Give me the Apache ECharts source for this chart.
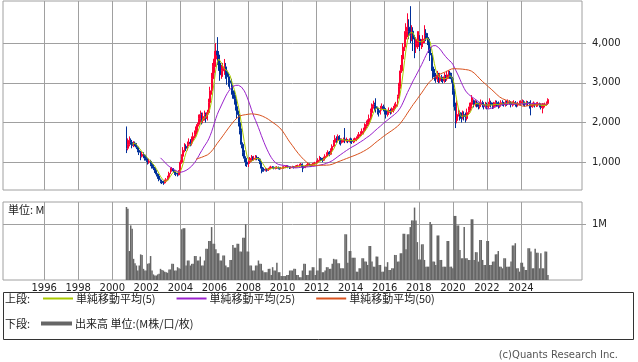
<!DOCTYPE html>
<html><head><meta charset="utf-8">
<script src="https://cdn.jsdelivr.net/npm/echarts@6/dist/echarts.min.js"></script>
<style>html,body{margin:0;padding:0;background:#fff}#c{width:638px;height:362px}</style>
</head><body><div id="c"></div>
<script>
// axis span (monthly categories) and data start
const axisStart = [1993, 8];
const axisEnd = [2027, 8];
const dataStart = '2000-11';
const yearTicks = ['1996','1998','2000','2002','2004','2006','2008','2010','2012','2014','2016','2018','2020','2022','2024'];
const priceTicks = [1000, 2000, 3000, 4000];
const volumeTicks = [1];

// monthly OHLC, Nov 2000 .. Aug 2025
const opens = [
1880,1350,
1450,1550,1500,1420,1480,1450,1380,1300,1250,1150,1200,1180,
1100,1050,1000,1020,950,900,850,780,700,650,560,520,
500,480,520,560,620,720,800,840,780,720,700,680,
750,1000,1150,1300,1400,1350,1450,1500,1480,1550,1650,1700,
1800,1950,2100,2200,2050,2150,2200,2100,2250,2500,2800,3100,
3400,3600,3800,3700,3500,3200,3300,3350,3400,3300,3150,3050,
3000,2800,2700,2600,2400,2200,2000,1800,1450,1250,1100,1000,
950,1000,1050,1100,1080,1100,1120,1100,1080,1000,850,820,
800,820,800,830,860,880,870,850,860,870,850,840,
850,860,870,880,900,880,860,870,880,870,890,900,
910,930,950,880,870,900,920,950,930,920,950,960,
980,1000,1050,1100,1080,1050,1100,1150,1200,1250,1200,1300,
1400,1500,1600,1550,1650,1550,1500,1550,1580,1540,1550,1530,
1560,1550,1520,1540,1560,1600,1650,1700,1720,1780,1800,1900,
1950,2000,2100,2250,2400,2450,2400,2350,2300,2250,2350,2400,
2350,2300,2200,2250,2300,2280,2300,2350,2400,2450,2650,2900,
3300,3600,3900,4100,4300,4400,4300,4200,4300,4100,3900,4000,
4100,4100,3950,4000,4100,4250,4200,4100,3900,3700,3400,3250,
3150,3100,3200,3050,3150,3100,3050,3150,3100,3200,3250,3200,
3100,2800,2400,2050,2200,2250,2150,2100,2200,2150,2100,2250,
2300,2400,2500,2550,2450,2500,2450,2400,2450,2500,2450,2400,
2450,2400,2450,2500,2450,2400,2450,2500,2480,2420,2450,2500,
2480,2450,2500,2480,2520,2500,2450,2480,2500,2460,2440,2470,
2490,2500,2520,2480,2460,2500,2480,2420,2400,2450,2470,2440,
2450,2460,2440,2380,2420,2430,2450,2480
];
const closes = [
1350,1450,
1550,1500,1420,1480,1450,1380,1300,1250,1150,1200,1180,1100,
1050,1000,1020,950,900,850,780,700,650,560,520,500,
480,520,560,620,720,800,840,780,720,700,680,750,
1000,1150,1300,1400,1350,1450,1500,1480,1550,1650,1700,1800,
1950,2100,2200,2050,2150,2200,2100,2250,2500,2800,3100,3400,
3600,3800,3700,3500,3200,3300,3350,3400,3300,3150,3050,3000,
2800,2700,2600,2400,2200,2000,1800,1450,1250,1100,1000,950,
1000,1050,1100,1080,1100,1120,1100,1080,1000,850,820,800,
820,800,830,860,880,870,850,860,870,850,840,850,
860,870,880,900,880,860,870,880,870,890,900,910,
930,950,880,870,900,920,950,930,920,950,960,980,
1000,1050,1100,1080,1050,1100,1150,1200,1250,1200,1300,1400,
1500,1600,1550,1650,1550,1500,1550,1580,1540,1550,1530,1560,
1550,1520,1540,1560,1600,1650,1700,1720,1780,1800,1900,1950,
2000,2100,2250,2400,2450,2400,2350,2300,2250,2350,2400,2350,
2300,2200,2250,2300,2280,2300,2350,2400,2450,2650,2900,3300,
3600,3900,4100,4300,4400,4300,4200,4300,4100,3900,4000,4100,
4100,3950,4000,4100,4250,4200,4100,3900,3700,3400,3250,3150,
3100,3200,3050,3150,3100,3050,3150,3100,3200,3250,3200,3100,
2800,2400,2050,2200,2250,2150,2100,2200,2150,2100,2250,2300,
2400,2500,2550,2450,2500,2450,2400,2450,2500,2450,2400,2450,
2400,2450,2500,2450,2400,2450,2500,2480,2420,2450,2500,2480,
2450,2500,2480,2520,2500,2450,2480,2500,2460,2440,2470,2490,
2500,2520,2480,2460,2500,2480,2420,2400,2450,2470,2440,2450,
2460,2440,2380,2420,2430,2450,2480,2580
];
const lows = [
1230,1300,
1400,1440,1350,1380,1400,1330,1250,1180,1050,1120,1100,1040,
1000,940,960,900,840,800,730,640,580,520,470,450,
430,460,500,540,600,700,760,730,680,650,640,670,
730,960,1100,1250,1280,1300,1400,1400,1420,1500,1600,1650,
1750,1900,2000,1950,1980,2050,2000,2050,2200,2450,2700,3000,
3250,3400,3450,3300,3050,3100,3150,3200,3100,2950,2900,2850,
2700,2600,2450,2300,2100,1900,1700,1350,1150,1000,900,880,
880,960,1010,1030,1040,1050,1050,1030,950,720,760,760,
770,760,780,810,840,840,820,820,830,820,810,820,
830,840,850,860,850,830,840,850,840,860,870,880,
890,910,750,840,850,880,900,890,880,900,920,940,
950,980,1020,1030,1000,1030,1080,1130,1170,1150,1180,1280,
1380,1450,1480,1500,1450,1420,1470,1500,1480,1500,1480,1500,
1480,1460,1480,1500,1530,1570,1620,1650,1700,1700,1760,1850,
1900,1950,2050,2200,2350,2300,2250,2200,2150,2200,2300,2280,
2200,2100,2150,2200,2200,2220,2250,2300,2350,2400,2600,2850,
3250,3500,3800,4000,4150,4100,4000,4050,3800,3620,3750,3850,
3900,3800,3850,3900,4000,4050,3950,3750,3550,3300,3100,3050,
3000,3020,2990,3000,3020,2990,3000,3020,3050,3100,3100,3000,
2700,2300,1860,1980,2150,2050,2000,2080,2050,2000,2050,2200,
2250,2350,2450,2380,2400,2380,2330,2350,2400,2380,2330,2350,
2330,2350,2400,2380,2340,2350,2400,2400,2350,2370,2400,2420,
2400,2400,2420,2440,2450,2380,2400,2430,2400,2380,2400,2430,
2430,2450,2420,2400,2420,2420,2350,2180,2370,2400,2380,2390,
2400,2380,2330,2230,2350,2380,2420,2450
];
const highs = [
1900,1600,
1650,1600,1560,1530,1520,1480,1400,1330,1280,1260,1250,1200,
1150,1100,1080,1060,980,950,880,800,720,670,590,560,
530,560,600,660,760,860,880,850,800,750,730,800,
1050,1200,1380,1480,1450,1520,1600,1580,1650,1750,1800,1900,
2000,2200,2300,2250,2250,2300,2250,2320,2600,2900,3250,3500,
3800,4000,4150,3800,3600,3450,3500,3600,3500,3400,3250,3150,
3100,2950,2800,2700,2500,2300,2100,1850,1500,1300,1150,1050,
1100,1130,1180,1150,1160,1180,1170,1130,1100,1020,880,860,
850,840,860,890,910,900,890,890,900,890,870,880,
890,900,910,930,920,900,900,910,900,920,930,940,
960,980,970,900,930,950,980,970,950,980,990,1010,
1040,1100,1160,1130,1110,1140,1200,1250,1300,1280,1350,1450,
1560,1680,1650,1700,1680,1600,1600,1620,1860,1620,1580,1600,
1620,1600,1600,1620,1650,1700,1760,1780,1850,1870,1980,2050,
2080,2200,2350,2480,2550,2500,2610,2400,2350,2420,2480,2450,
2400,2350,2320,2380,2350,2380,2420,2480,2520,2700,3000,3450,
3700,4000,4300,4500,4750,4600,4930,4450,4400,4200,4150,4300,
4300,4200,4100,4200,4450,4350,4250,4150,3950,3750,3450,3350,
3250,3300,3250,3250,3200,3150,3250,3200,3300,3320,3300,3250,
3150,2850,2500,2560,2350,2300,2250,2300,2280,2250,2350,2400,
2500,2690,2620,2580,2560,2550,2500,2520,2580,2550,2500,2520,
2500,2520,2610,2550,2500,2520,2560,2550,2530,2500,2560,2560,
2520,2560,2550,2580,2560,2540,2530,2560,2540,2500,2520,2550,
2560,2580,2560,2520,2550,2540,2520,2560,2500,2530,2500,2510,
2520,2500,2480,2490,2480,2500,2530,2610
];
// monthly volume in millions
const volumes = [
1.31,1.28,
0.52,0.98,0.92,0.38,0.30,0.26,0.17,0.26,0.46,0.45,0.20,0.17,
0.17,0.29,0.30,0.43,0.17,0.10,0.08,0.08,0.10,0.11,0.20,0.18,
0.17,0.15,0.14,0.13,0.19,0.19,0.29,0.29,0.17,0.17,0.23,0.21,
0.20,0.91,0.93,0.93,0.26,0.35,0.35,0.26,0.29,0.29,0.43,0.43,
0.35,0.35,0.42,0.26,0.26,0.35,0.56,0.56,0.70,0.70,0.95,0.65,
0.65,0.55,0.48,0.48,0.35,0.35,0.44,0.44,0.26,0.23,0.23,0.36,
0.36,0.63,0.58,0.58,0.65,0.65,0.51,0.51,0.76,0.76,1.00,0.51,
0.51,0.26,0.26,0.17,0.17,0.26,0.26,0.35,0.29,0.29,0.17,0.14,
0.14,0.14,0.20,0.20,0.09,0.23,0.17,0.17,0.31,0.14,0.14,0.07,
0.07,0.07,0.07,0.09,0.09,0.17,0.17,0.17,0.20,0.20,0.09,0.09,
0.05,0.05,0.17,0.29,0.29,0.09,0.09,0.17,0.17,0.23,0.23,0.09,
0.17,0.17,0.39,0.39,0.14,0.14,0.17,0.23,0.23,0.20,0.20,0.29,
0.38,0.37,0.37,0.30,0.30,0.21,0.21,0.21,0.82,0.82,0.31,0.52,
0.52,0.40,0.40,0.40,0.15,0.15,0.21,0.21,0.39,0.39,0.33,0.33,
0.27,0.61,0.61,0.33,0.24,0.24,0.42,0.42,0.27,0.27,0.15,0.15,
0.24,0.24,0.32,0.18,0.18,0.21,0.21,0.45,0.45,0.33,0.33,0.48,
0.48,0.83,0.83,0.55,0.82,0.82,0.95,1.07,1.07,1.30,1.07,0.68,
0.37,0.37,0.64,0.64,0.36,0.24,0.24,0.24,1.04,1.00,0.33,0.33,
0.27,0.80,0.80,0.36,0.36,0.24,0.24,0.24,0.70,0.70,0.24,0.24,
0.21,1.15,1.15,0.98,0.98,0.54,0.39,0.39,0.95,0.39,0.39,0.36,
0.36,1.09,1.09,0.36,0.50,0.50,0.33,0.72,0.72,0.36,0.27,0.27,
0.70,0.70,0.27,0.27,0.33,0.33,0.46,0.46,0.52,0.24,0.24,0.21,
0.39,0.39,0.24,0.24,0.24,0.33,0.62,0.62,0.66,0.21,0.21,0.15,
0.31,0.31,0.24,0.18,0.18,0.57,0.57,0.51,0.21,0.21,0.56,0.49,
0.49,0.21,0.48,0.21,0.21,0.51,0.51,0.09
];

// ---- build ----
const categories = [];
for (let y = axisStart[0], m = axisStart[1]; y < axisEnd[0] || (y === axisEnd[0] && m <= axisEnd[1]);) {
  categories.push(y + '-' + String(m).padStart(2, '0'));
  m++; if (m > 12) { m = 1; y++; }
}
const startIdx = categories.indexOf(dataStart);
function pad(arr) {
  return categories.map((_, i) => { const k = i - startIdx; return (k >= 0 && k < arr.length) ? arr[k] : '-'; });
}
function movingAverage(n) {
  return closes.map((_, i) => {
    if (i < n - 1) return '-';
    let s = 0; for (let j = i - n + 1; j <= i; j++) s += closes[j];
    return +(s / n).toFixed(1);
  });
}
const candleData = categories.map((_, i) => {
  const k = i - startIdx;
  return (k >= 0 && k < closes.length) ? [opens[k], closes[k], lows[k], highs[k]] : ['-', '-', '-', '-'];
});
const isYearTick = (idx, val) => val.slice(5) === '01' && yearTicks.indexOf(val.slice(0, 4)) >= 0;
const GRID = '#a0a0a0';
const TXT = '#222';
const NUMFONT = 'DejaVu Sans';
const JPFONT = 'Noto Sans CJK JP';
const C_MA5 = '#a8c800', C_MA25 = '#9a22cc', C_MA50 = '#d9521e', C_VOL = '#666';

const chart = echarts.init(document.getElementById('c'), null, { renderer: 'canvas' });
chart.setOption({
  animation: false,
  backgroundColor: '#fff',
  textStyle: { fontFamily: JPFONT },
  grid: [
    { left: 3, width: 579, top: 1, height: 189, show: true, borderColor: GRID, borderWidth: 1, backgroundColor: 'transparent' },
    { left: 3, width: 579, top: 202, height: 78, show: true, borderColor: GRID, borderWidth: 1, backgroundColor: 'transparent' }
  ],
  xAxis: [
    { type: 'category', gridIndex: 0, data: categories, boundaryGap: false,
      axisLine: { show: false }, axisTick: { show: false }, axisLabel: { show: false },
      splitLine: { show: true, interval: isYearTick, lineStyle: { color: GRID, width: 1 } } },
    { type: 'category', gridIndex: 1, data: categories, boundaryGap: false,
      axisLine: { show: false }, axisTick: { show: false },
      axisLabel: { show: true, interval: isYearTick, formatter: v => v.slice(0, 4), margin: 3,
        fontSize: 10, color: TXT, fontFamily: NUMFONT },
      splitLine: { show: true, interval: isYearTick, lineStyle: { color: GRID, width: 1 } } }
  ],
  yAxis: [
    { type: 'value', gridIndex: 0, position: 'right', min: 300, max: 5060, scale: true,
      axisLine: { show: false },
      axisTick: { show: true, length: 4, customValues: priceTicks, lineStyle: { color: GRID } },
      axisLabel: { customValues: priceTicks, margin: 10, fontSize: 10, color: TXT, fontFamily: NUMFONT,
        formatter: v => Number(v).toLocaleString('en-US') },
      splitLine: { show: true, lineStyle: { color: GRID, width: 1 } } },
    { type: 'value', gridIndex: 1, position: 'right', min: 0, max: 1.4,
      axisLine: { show: false },
      axisTick: { show: true, length: 4, customValues: volumeTicks, lineStyle: { color: GRID } },
      axisLabel: { customValues: volumeTicks, margin: 10, fontSize: 10, color: TXT, fontFamily: NUMFONT,
        formatter: v => v + 'M' },
      splitLine: { show: true, lineStyle: { color: GRID, width: 1 } } }
  ],
  legend: [
    { left: 43, top: 293, padding: 0, icon: 'rect', itemWidth: 30, itemHeight: 2, itemGap: 21,
      data: [
        { name: '単純移動平均(5)', itemStyle: { color: C_MA5, borderWidth: 0 } },
        { name: '単純移動平均(25)', itemStyle: { color: C_MA25, borderWidth: 0 } },
        { name: '単純移動平均(50)', itemStyle: { color: C_MA50, borderWidth: 0 } }
      ],
      textStyle: { fontSize: 11, color: TXT, fontFamily: JPFONT, padding: [0, 0, 0, -2] } },
    { left: 41, top: 318, padding: 0, icon: 'rect', itemWidth: 31, itemHeight: 4,
      data: [{ name: '出来高 単位:(M株/口/枚)', itemStyle: { color: C_VOL, borderWidth: 0 } }],
      textStyle: { fontSize: 11, color: TXT, fontFamily: JPFONT, padding: [0, 0, 0, -2] } }
  ],
  graphic: [
    { type: 'rect', shape: { x: 3.5, y: 292.5, width: 630, height: 47 }, style: { fill: 'none', stroke: '#333', lineWidth: 1 }, silent: true },
    { type: 'text', x: 5, y: 299, style: { text: '上段:', fill: TXT, font: '11px "Noto Sans CJK JP"', verticalAlign: 'middle' } },
    { type: 'text', x: 5, y: 324, style: { text: '下段:', fill: TXT, font: '11px "Noto Sans CJK JP"', verticalAlign: 'middle' } },
    { type: 'text', x: 8, y: 210, style: { text: '単位: M', fill: TXT, font: '11px "Noto Sans CJK JP"', verticalAlign: 'middle' } },
    { type: 'text', x: 618, y: 355, style: { text: '(c)Quants Research Inc.', fill: '#555', font: '10px "DejaVu Sans"', align: 'right', verticalAlign: 'middle' } }
  ],
  series: [
    { type: 'candlestick', name: '株価', xAxisIndex: 0, yAxisIndex: 0, data: candleData, barWidth: 1.4,
      itemStyle: { color: '#ff0033', color0: '#00309a', borderColor: '#ff0033', borderColor0: '#00309a', borderWidth: 1 } },
    { type: 'line', name: '単純移動平均(5)', xAxisIndex: 0, yAxisIndex: 0, data: pad(movingAverage(5)),
      showSymbol: false, symbol: 'none', lineStyle: { color: C_MA5, width: 1 }, itemStyle: { color: C_MA5 }, z: 3 },
    { type: 'line', name: '単純移動平均(25)', xAxisIndex: 0, yAxisIndex: 0, data: pad(movingAverage(25)),
      showSymbol: false, symbol: 'none', lineStyle: { color: C_MA25, width: 1 }, itemStyle: { color: C_MA25 }, z: 3 },
    { type: 'line', name: '単純移動平均(50)', xAxisIndex: 0, yAxisIndex: 0, data: pad(movingAverage(50)),
      showSymbol: false, symbol: 'none', lineStyle: { color: C_MA50, width: 1 }, itemStyle: { color: C_MA50 }, z: 3 },
    { type: 'bar', name: '出来高 単位:(M株/口/枚)', xAxisIndex: 1, yAxisIndex: 1, data: pad(volumes),
      barWidth: 1.5, itemStyle: { color: C_VOL } }
  ]
});
</script></body></html>
